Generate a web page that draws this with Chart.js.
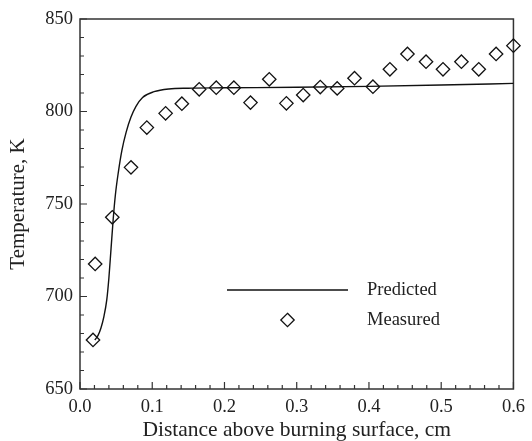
<!DOCTYPE html>
<html>
<head>
<meta charset="utf-8">
<script src="https://cdn.jsdelivr.net/npm/chart.js@4.4.1/dist/chart.umd.min.js"></script>
<style>
html,body{margin:0;padding:0;background:#fff;}
#wrap{width:532px;height:441px;position:relative;}
</style>
</head>
<body>
<div id="wrap"><canvas id="c" width="532" height="441"></canvas></div>
<script>
// ---- data ----
const predictedX = [0.0205, 0.025, 0.029, 0.033, 0.037, 0.040, 0.043, 0.046, 0.049, 0.053, 0.058, 0.064, 0.0706, 0.0775, 0.0866, 0.1025, 0.123, 0.15, 0.2, 0.3, 0.4, 0.5, 0.6];
const predictedY = [676.5, 679, 683, 689, 698, 710, 726, 742, 755, 767, 779, 789, 797, 802.8, 807.6, 810.7, 812.2, 812.6, 812.8, 813.1, 813.6, 814.3, 815.2];
const measuredX = [0.018, 0.021, 0.0447, 0.0706, 0.0925, 0.1185, 0.141, 0.165, 0.1886, 0.213, 0.236, 0.262, 0.2857, 0.309, 0.3326, 0.356, 0.380, 0.4055, 0.429, 0.4533, 0.479, 0.5025, 0.528, 0.552, 0.576, 0.600];
const measuredY = [676.5, 717.6, 742.8, 769.8, 791.3, 799, 804.2, 812, 812.9, 812.9, 804.8, 817.4, 804.4, 808.9, 813.2, 812.5, 818, 813.4, 822.8, 831.1, 826.9, 822.8, 826.9, 822.8, 831.1, 835.6];
const xTickLabels = ["0.0", "0.1", "0.2", "0.3", "0.4", "0.5", "0.6"];
const yTickLabels = ["650", "700", "750", "800", "850"];
const seriesNames = ["Predicted", "Measured"];
const xTitle = "Distance above burning surface, cm";
const yTitle = "Temperature, K";

const FONT = "'Liberation Serif', 'Times New Roman', serif";
const INK = '#222';

const predPts = predictedX.map((x, i) => ({x: x, y: predictedY[i]}));
const measPts = measuredX.map((x, i) => ({x: x, y: measuredY[i]}));

const frameAndTicks = {
  id: 'frameAndTicks',
  beforeDatasetsDraw(chart) {
    const {ctx, chartArea: a, scales: {x, y}} = chart;
    ctx.save();
    ctx.strokeStyle = '#333';
    ctx.lineWidth = 1.5;
    ctx.strokeRect(a.left, a.top, a.right - a.left, a.bottom - a.top);
    ctx.lineWidth = 1.2;
    ctx.beginPath();
    for (let i = 0; i <= 30; i++) {
      const px = x.getPixelForValue(i * 0.02);
      const len = (i % 5 === 0) ? 7 : 4;
      ctx.moveTo(px, a.bottom);
      ctx.lineTo(px, a.bottom - len);
    }
    for (let j = 0; j <= 20; j++) {
      const py = y.getPixelForValue(650 + j * 10);
      const len = (j % 5 === 0) ? 7 : 4;
      ctx.moveTo(a.left, py);
      ctx.lineTo(a.left + len, py);
    }
    ctx.stroke();
    ctx.restore();
  }
};

const legendPlugin = {
  id: 'customLegend',
  afterDatasetsDraw(chart) {
    const {ctx, chartArea: a} = chart;
    const x0 = a.left + 147, x1 = a.left + 268, tx = a.left + 287;
    const y0 = a.top + 271, y1 = a.top + 301;
    ctx.save();
    ctx.strokeStyle = '#111';
    ctx.lineWidth = 1.4;
    ctx.beginPath();
    ctx.moveTo(x0, y0); ctx.lineTo(x1, y0);
    ctx.stroke();
    const cx = a.left + 207.5, r = 6.7;
    ctx.lineWidth = 1.3;
    ctx.beginPath();
    ctx.moveTo(cx, y1 - r); ctx.lineTo(cx + r, y1); ctx.lineTo(cx, y1 + r); ctx.lineTo(cx - r, y1); ctx.closePath();
    ctx.stroke();
    ctx.fillStyle = INK;
    ctx.font = "18.5px " + FONT;
    ctx.textBaseline = 'middle';
    ctx.textAlign = 'left';
    ctx.fillText(seriesNames[0], tx, y0);
    ctx.fillText(seriesNames[1], tx, y1);
    ctx.restore();
  }
};

new Chart(document.getElementById('c'), {
  type: 'scatter',
  data: {
    datasets: [
      {
        label: seriesNames[0],
        data: predPts,
        showLine: true,
        borderColor: '#111',
        borderWidth: 1.4,
        pointRadius: 0,
        cubicInterpolationMode: 'monotone',
        fill: false,
        clip: false
      },
      {
        label: seriesNames[1],
        data: measPts,
        showLine: false,
        pointStyle: 'rectRot',
        pointRadius: 6.7,
        pointBorderColor: '#111',
        pointBackgroundColor: 'rgba(0,0,0,0)',
        pointBorderWidth: 1.3,
        clip: false
      }
    ]
  },
  options: {
    responsive: false,
    animation: false,
    devicePixelRatio: 1,
    layout: {padding: {top: 19, right: 13, left: 0, bottom: 0}},
    plugins: {legend: {display: false}, tooltip: {enabled: false}},
    scales: {
      x: {
        type: 'linear', min: 0, max: 0.6,
        afterFit(s) { s.height = 52; },
        grid: {display: false, drawTicks: false},
        border: {display: false},
        ticks: {
          stepSize: 0.1, padding: 7, color: INK,
          font: {family: FONT, size: 18.5},
          callback: (v) => { const i = Math.round(v * 10); return xTickLabels[i]; }
        },
        title: {display: true, text: xTitle, color: INK, font: {family: FONT, size: 21.5, lineHeight: 1}, padding: {top: 0, bottom: 0}}
      },
      y: {
        type: 'linear', min: 650, max: 850,
        afterFit(s) { s.width = 80; },
        grid: {display: false, drawTicks: false},
        border: {display: false},
        ticks: {
          stepSize: 50, padding: 7, color: INK,
          font: {family: FONT, size: 18.5},
          callback: (v) => { const i = Math.round((v - 650) / 50); return yTickLabels[i]; }
        },
        title: {display: true, text: yTitle, color: INK, font: {family: FONT, size: 21, lineHeight: 1}, padding: {top: 8, bottom: 0}}
      }
    }
  },
  plugins: [frameAndTicks, legendPlugin]
});
</script>
</body>
</html>
